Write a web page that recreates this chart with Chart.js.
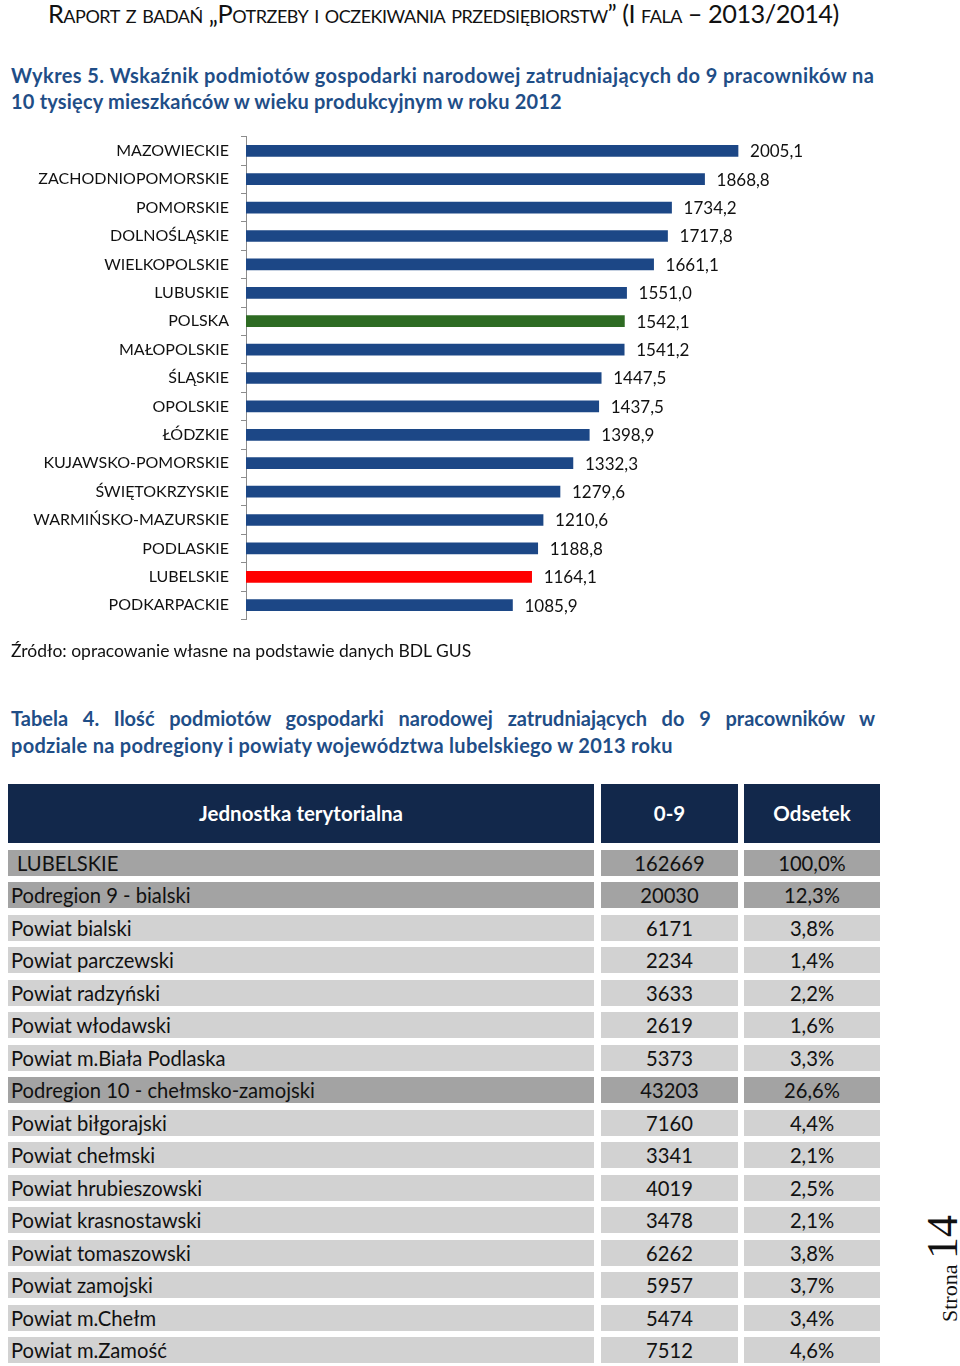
<!DOCTYPE html>
<html lang="pl">
<head>
<meta charset="utf-8">
<script src="https://cdn.jsdelivr.net/npm/chart.js@4/dist/chart.umd.min.js"></script>
<style>
  html, body { margin:0; padding:0; background:#fff; }
  body { width:960px; height:1366px; position:relative; overflow:hidden; font-family: Lato, "Open Sans", sans-serif; color:#111; }
  .hdr { position:absolute; left:48px; top:-2px; font-size:25.3px; font-variant:small-caps; white-space:nowrap; color:#111; letter-spacing:-0.48px; }
  .ttl { position:absolute; left:11px; font-weight:bold; color:#1f4e87; font-size:20px; white-space:nowrap; }
  .just { white-space:normal; width:864px; text-align:justify; text-align-last:justify; }
  .src { position:absolute; left:11px; top:640px; font-size:17.5px; white-space:nowrap; }
  #chartBox { position:absolute; left:0; top:115px; width:884px; height:526px; }
  .cell { position:absolute; box-sizing:border-box; white-space:nowrap; }
  .hd { background:#12284b; color:#fff; font-weight:bold; font-size:20.5px; height:59px; line-height:59px; text-align:center; top:784px; }
  .rw { height:26px; line-height:26px; font-size:20.2px; }
  .rw.c { text-align:center; }
  .dark { background:#a3a3a3; }
  .light { background:#d2d2d2; }
  .page { position:absolute; left:921px; top:1322px; transform-origin:0 0; transform:rotate(-90deg); white-space:nowrap; font-family:"Liberation Serif", "DejaVu Serif", serif; color:#111; line-height:44px; }
</style>
</head>
<body>
<div class="hdr">Raport z badań „Potrzeby i oczekiwania przedsiębiorstw” (I fala – 2013/2014)</div>
<div class="ttl" style="top:63px; letter-spacing:0.42px">Wykres 5. Wskaźnik podmiotów gospodarki narodowej zatrudniających do 9 pracowników na</div>
<div class="ttl" style="top:89px; letter-spacing:0.19px">10 tysięcy mieszkańców w wieku produkcyjnym w roku 2012</div>
<div id="chartBox"><canvas id="c"></canvas></div>
<div class="src">Źródło: opracowanie własne na podstawie danych BDL GUS</div>
<div class="ttl just" style="top:706px">Tabela 4. Ilość podmiotów gospodarki narodowej zatrudniających do 9 pracowników w</div>
<div class="ttl" style="top:733px; letter-spacing:0.28px">podziale na podregiony i powiaty województwa lubelskiego w 2013 roku</div>
<div id="tbl"></div>
<div class="page"><span style="font-size:22px">Strona </span><span style="font-size:44px">14</span></div>
<script>
const categories = ["MAZOWIECKIE","ZACHODNIOPOMORSKIE","POMORSKIE","DOLNOŚLĄSKIE","WIELKOPOLSKIE","LUBUSKIE","POLSKA","MAŁOPOLSKIE","ŚLĄSKIE","OPOLSKIE","ŁÓDZKIE","KUJAWSKO-POMORSKIE","ŚWIĘTOKRZYSKIE","WARMIŃSKO-MAZURSKIE","PODLASKIE","LUBELSKIE","PODKARPACKIE"];
const values = [2005.1,1868.8,1734.2,1717.8,1661.1,1551.0,1542.1,1541.2,1447.5,1437.5,1398.9,1332.3,1279.6,1210.6,1188.8,1164.1,1085.9];

const tableHeaders = ["Jednostka terytorialna","0-9","Odsetek"];
const tableUnits = ["LUBELSKIE","Podregion 9 - bialski","Powiat bialski","Powiat parczewski","Powiat radzyński","Powiat włodawski","Powiat m.Biała Podlaska","Podregion 10 - chełmsko-zamojski","Powiat biłgorajski","Powiat chełmski","Powiat hrubieszowski","Powiat krasnostawski","Powiat tomaszowski","Powiat zamojski","Powiat m.Chełm","Powiat m.Zamość"];
const tableCounts = [162669,20030,6171,2234,3633,2619,5373,43203,7160,3341,4019,3478,6262,5957,5474,7512];
const tableShares = ["100,0%","12,3%","3,8%","1,4%","2,2%","1,6%","3,3%","26,6%","4,4%","2,1%","2,5%","2,1%","3,8%","3,7%","3,4%","4,6%"];

// table (HTML)
const cols = [{x:8, w:586}, {x:601, w:137}, {x:744, w:136}];
const tbl = document.getElementById('tbl');
let h = '';
tableHeaders.forEach((t, j) => {
  h += '<div class="cell hd" style="left:'+cols[j].x+'px;width:'+cols[j].w+'px">'+t+'</div>';
});
tableUnits.forEach((u, i) => {
  const cls = u.startsWith('Powiat') ? 'light' : 'dark';
  const top = (850 + i * 32.47).toFixed(2);
  const cells = [u, tableCounts[i], tableShares[i]];
  cells.forEach((t, j) => {
    const pad = j === 0 ? (i === 0 ? 'padding-left:9px;' : 'padding-left:3px;') : '';
    h += '<div class="cell rw '+cls+(j>0?' c':'')+'" style="'+pad+'top:'+top+'px;left:'+cols[j].x+'px;width:'+cols[j].w+'px">'+t+'</div>';
  });
});
tbl.innerHTML = h;

const barColors = categories.map(c => c === 'POLSKA' ? '#2e6b23' : (c === 'LUBELSKIE' ? '#ff0000' : '#1c4786'));
const fmt = v => v.toFixed(1).replace('.', ',');

const labelPlugin = {
  id: 'valLabels',
  afterDatasetsDraw(chart) {
    const ctx = chart.ctx;
    const meta = chart.getDatasetMeta(0);
    ctx.save();
    ctx.font = '17px Lato';
    ctx.fillStyle = '#111';
    ctx.textAlign = 'left';
    ctx.textBaseline = 'middle';
    meta.data.forEach((el, i) => {
      ctx.fillText(fmt(values[i]), el.x + 12, el.y + 1);
    });
    ctx.restore();
  }
};

new Chart(document.getElementById('c'), {
  type: 'bar',
  data: {
    labels: categories,
    datasets: [{ data: values, backgroundColor: barColors, barThickness: 11, borderWidth: 0 }]
  },
  options: {
    indexAxis: 'y',
    responsive: true,
    maintainAspectRatio: false,
    animation: false,
    layout: { padding: { top: 8, bottom: 10, left: 0, right: 0 } },
    plugins: { legend: { display: false }, tooltip: { enabled: false } },
    scales: {
      x: { display: false, min: 0, max: 2600 },
      y: {
        afterFit(s) { s.width = 246; },
        border: { display: true, color: '#8c8c8c', width: 1 },
        grid: { display: true, drawOnChartArea: false, drawTicks: true, tickLength: 5, color: '#8c8c8c', offset: true },
        ticks: { color: '#111', font: { family: 'Lato', size: 16 }, padding: 12 }
      }
    }
  },
  plugins: [labelPlugin]
});
</script>
</body>
</html>
